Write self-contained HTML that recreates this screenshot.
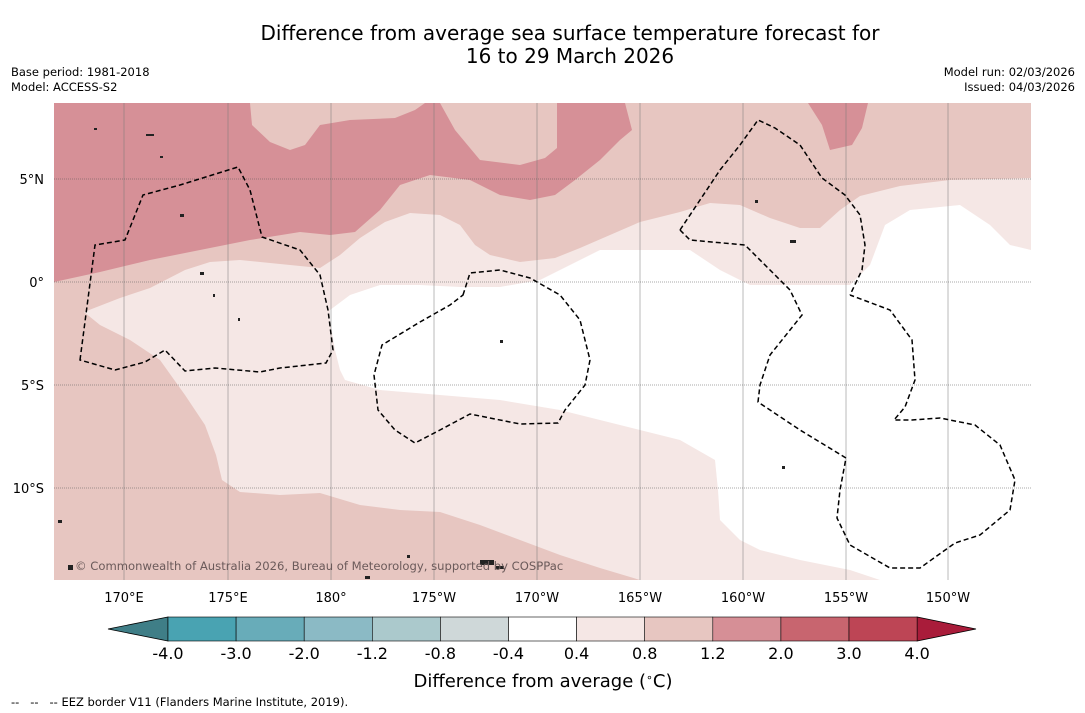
<!DOCTYPE html>
<html><head><meta charset="utf-8">
<style>
html,body{margin:0;padding:0;background:#fff;width:1085px;height:713px;overflow:hidden;font-family:"DejaVu Sans","Liberation Sans",sans-serif;}
.t{position:absolute;color:#000;white-space:nowrap}
</style></head><body>
<div class="t" style="left:0;width:1140px;text-align:center;top:22px;font-size:20px;line-height:23px">Difference from average sea surface temperature forecast for<br>16 to 29 March 2026</div>
<div class="t" style="left:11px;top:65px;font-size:11.5px;line-height:15px">Base period: 1981-2018<br>Model: ACCESS-S2</div>
<div class="t" style="right:10px;top:65px;font-size:11.5px;line-height:15px;text-align:right">Model run: 02/03/2026<br>Issued: 04/03/2026</div>

<svg width="1085" height="713" style="position:absolute;left:0;top:0" font-family="DejaVu Sans, Liberation Sans, sans-serif">
<g>
<rect x="54" y="103" width="977" height="477" fill="#e7c6c1"/>
<path fill="#d69097" d="M54,103 L250,103 L252,125 L270,142 L290,150 L305,145 L320,125 L350,120 L395,118 L415,110 L425,103 L440,103 L455,130 L480,160 L520,165 L545,158 L557,148 L557,103 L625,103 L632,130 L620,140 L600,160 L575,180 L555,195 L530,200 L500,195 L470,180 L430,175 L400,185 L380,210 L355,232 L330,235 L300,232 L250,240 L200,250 L150,260 L100,272 L54,282 Z"/>
<path fill="#d69097" d="M808,103 L868,103 L862,128 L852,145 L830,150 L822,125 Z"/>
<path fill="#f5e7e5" d="M84,312 L120,298 L150,288 L185,270 L210,262 L240,260 L280,264 L320,268 L340,255 L360,238 L385,222 L410,213 L440,215 L460,225 L475,245 L490,255 L520,262 L555,258 L580,248 L610,235 L640,222 L680,212 L710,203 L740,205 L770,218 L800,228 L820,228 L840,210 L860,196 L900,186 L950,180 L1031,178 L1031,580 L640,580 L600,568 L560,555 L520,540 L480,525 L440,512 L400,510 L360,505 L320,493 L280,495 L240,492 L222,480 L216,455 L205,425 L185,395 L160,360 L130,340 L100,325 Z"/>
<path fill="#ffffff" d="M330,310 L350,295 L380,285 L420,285 L460,287 L500,287 L540,280 L570,265 L600,250 L690,250 L720,270 L750,285 L850,285 L870,265 L885,225 L910,210 L960,205 L990,225 L1010,245 L1031,250 L1031,580 L880,580 L850,570 L800,560 L760,550 L740,540 L720,520 L718,490 L715,460 L680,440 L640,430 L600,420 L560,410 L500,400 L440,395 L380,390 L345,380 L340,370 L335,350 L330,320 Z"/>
<g stroke="#777" stroke-width="0.5">
<line x1="124" y1="103" x2="124" y2="580"/><line x1="228" y1="103" x2="228" y2="580"/><line x1="331" y1="103" x2="331" y2="580"/><line x1="434" y1="103" x2="434" y2="580"/><line x1="537" y1="103" x2="537" y2="580"/><line x1="640" y1="103" x2="640" y2="580"/><line x1="743" y1="103" x2="743" y2="580"/><line x1="846" y1="103" x2="846" y2="580"/><line x1="948" y1="103" x2="948" y2="580"/>
</g>
<g stroke="#555" stroke-width="0.6" stroke-dasharray="1,1">
<line x1="54" y1="179" x2="1031" y2="179"/><line x1="54" y1="282" x2="1031" y2="282"/><line x1="54" y1="385" x2="1031" y2="385"/><line x1="54" y1="488" x2="1031" y2="488"/>
</g>
<g fill="none" stroke="#000" stroke-width="1.5" stroke-dasharray="5,3">
<path d="M80,360 L95,245 L125,240 L143,195 L180,185 L238,167 L250,190 L262,237 L300,250 L320,275 L328,310 L333,350 L326,363 L280,368 L260,372 L215,368 L185,371 L165,350 L145,362 L115,370 Z"/>
<path d="M463,295 L470,273 L500,270 L530,278 L560,295 L580,320 L590,360 L585,385 L565,410 L558,423 L520,424 L470,414 L440,430 L415,443 L395,430 L378,410 L374,375 L382,345 L420,322 L450,305 Z"/>
<path d="M680,230 L700,200 L720,170 L740,145 L758,120 L775,128 L800,145 L822,178 L845,195 L860,215 L865,245 L862,270 L850,295"/>
<path d="M680,230 L690,240 L745,245 L770,270 L790,290 L802,315 L790,330 L770,355 L760,385 L758,402 L800,430 L846,458 L840,490 L837,518 L850,545 L890,568 L920,568 L955,543 L980,535 L1010,510 L1015,480 L1000,445 L975,425 L940,418 L912,420 L894,420 L905,407 L915,380 L912,340 L890,310 L850,295"/>
</g>
<g fill="#222">
<rect x="146" y="134" width="8" height="2"/><rect x="94" y="128" width="3" height="2"/><rect x="180" y="214" width="4" height="3"/><rect x="58" y="520" width="4" height="3"/><rect x="480" y="560" width="14" height="5"/><rect x="496" y="566" width="8" height="3"/><rect x="68" y="565" width="5" height="5"/><rect x="407" y="555" width="3" height="3"/><rect x="200" y="272" width="4" height="3"/><rect x="790" y="240" width="6" height="3"/><rect x="782" y="466" width="3" height="3"/><rect x="755" y="200" width="3" height="3"/><rect x="500" y="340" width="3" height="3"/><rect x="160" y="156" width="3" height="2"/><rect x="213" y="294" width="2" height="3"/><rect x="238" y="318" width="2" height="3"/><rect x="365" y="576" width="5" height="3"/>
</g>
<text x="75" y="570" font-size="11.6" fill="#6b5a5a">© Commonwealth of Australia 2026, Bureau of Meteorology, supported by COSPPac</text>
</g>
<g font-size="13" text-anchor="end">
<text x="44" y="184">5°N</text><text x="44" y="287">0°</text><text x="44" y="390">5°S</text><text x="44" y="493">10°S</text>
</g>
<g font-size="13" text-anchor="middle">
<text x="124" y="602">170°E</text><text x="228" y="602">175°E</text><text x="331" y="602">180°</text><text x="434" y="602">175°W</text><text x="537" y="602">170°W</text><text x="640" y="602">165°W</text><text x="743" y="602">160°W</text><text x="846" y="602">155°W</text><text x="948" y="602">150°W</text>
</g>
<g id="cbar"></g>
<text x="543" y="687" font-size="18" text-anchor="middle">Difference from average (<tspan baseline-shift="super" font-size="11">∘</tspan>C)</text>
<text x="11" y="706" font-size="11.5" xml:space="preserve">--   --   -- EEZ border V11 (Flanders Marine Institute, 2019).</text>
</svg>
<script>
const cbLabels = ["-4.0","-3.0","-2.0","-1.2","-0.8","-0.4","0.4","0.8","1.2","2.0","3.0","4.0"];
const cbColors = ["#49a3b2","#68acb9","#8bbac5","#abc9cc","#cfd8d9","#ffffff","#f5e7e5","#e7c6c1","#d68f96","#c8656f","#bd4555"];
const cbUnder = "#3f7e87";
const cbOver = "#a91c3a";
const NS="http://www.w3.org/2000/svg";
const g=document.getElementById('cbar');
const x0=168, w=68.1, y0=617, h=24;
function mk(t,a){const e=document.createElementNS(NS,t);for(const k in a)e.setAttribute(k,a[k]);g.appendChild(e);return e;}
const xEnd=x0+w*cbColors.length;
let tri=mk('polygon',{points:`${x0},${y0} ${x0},${y0+h} 108,${y0+h/2}`,fill:cbUnder,stroke:'#000','stroke-width':0.8});


tri=mk('polygon',{points:`${xEnd},${y0} ${xEnd},${y0+h} 976,${y0+h/2}`,fill:cbOver,stroke:'#000','stroke-width':0.8});


cbColors.forEach((c,i)=>{
  const r=mk('rect',{x:x0+i*w,y:y0,width:w,height:h,fill:c,stroke:'#000','stroke-width':0.6});
  
  
});
cbLabels.forEach((l,i)=>{
  const t=mk('text',{x:x0+i*w,y:659,'font-size':16,'text-anchor':'middle'});
  t.textContent=l;
  
  
});
</script>
</body></html>
